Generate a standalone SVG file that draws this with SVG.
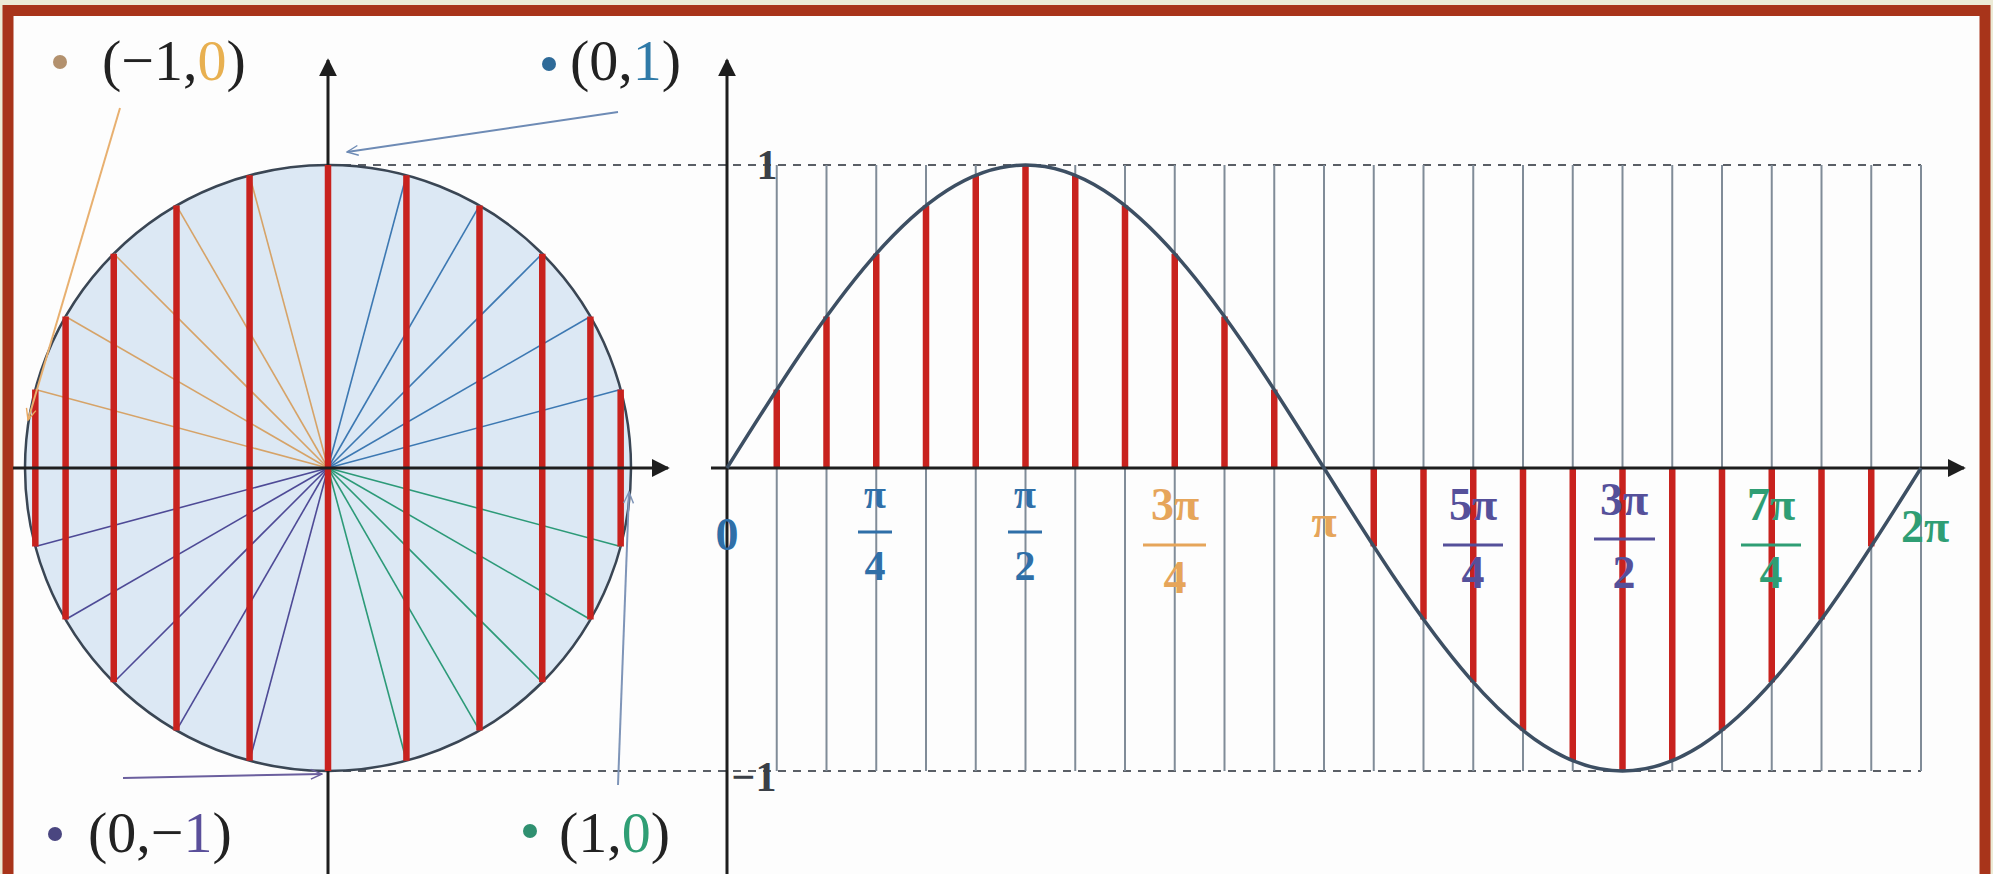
<svg xmlns="http://www.w3.org/2000/svg" width="1993" height="874" viewBox="0 0 1993 874">
<style>
.lbl{font-family:"Liberation Serif","DejaVu Serif",serif;font-size:58px;fill:#222}
.tick{font-family:"Liberation Serif","DejaVu Serif",serif;font-weight:bold;text-anchor:middle}
.axis{stroke:#1e1e1e;stroke-width:3;fill:none}
.dash{stroke:#5a5f66;stroke-width:2;stroke-dasharray:8 7;fill:none}
.grid{stroke:#808c98;stroke-width:2}
.red{stroke:#c8221e;stroke-width:6.5;stroke-linecap:butt}
.rb{stroke:#3c78b2;stroke-width:1.6}
.ro{stroke:#d6a368;stroke-width:1.6}
.rp{stroke:#4e4a96;stroke-width:1.6}
.rg{stroke:#2c9a78;stroke-width:1.6}
.bar{stroke-width:3}
.blue{fill:#2f6fa8;stroke:#2f6fa8}
.orange{fill:#e6a55a;stroke:#e6a55a}
.purple{fill:#55509a;stroke:#55509a}
.green{fill:#2f9e74;stroke:#2f9e74}
text.blue,text.orange,text.purple,text.green{stroke:none}
</style>
<defs>
<marker id="ah" viewBox="0 0 10 10" refX="9" refY="5" markerWidth="6" markerHeight="6" markerUnits="strokeWidth" orient="auto"><path d="M0,0 L10,5 L0,10 z" fill="#1e1e1e"/></marker>
<marker id="pb" viewBox="0 0 20 20" refX="18" refY="10" markerWidth="14" markerHeight="14" markerUnits="userSpaceOnUse" orient="auto"><path d="M2,3 L18,10 L2,17" fill="none" stroke="#6e8bb5" stroke-width="2"/></marker>
<marker id="po" viewBox="0 0 20 20" refX="18" refY="10" markerWidth="14" markerHeight="14" markerUnits="userSpaceOnUse" orient="auto"><path d="M2,3 L18,10 L2,17" fill="none" stroke="#e8a860" stroke-width="2"/></marker>
<marker id="pp" viewBox="0 0 20 20" refX="18" refY="10" markerWidth="14" markerHeight="14" markerUnits="userSpaceOnUse" orient="auto"><path d="M2,3 L18,10 L2,17" fill="none" stroke="#6b5f9e" stroke-width="2"/></marker>
<marker id="pg" viewBox="0 0 20 20" refX="18" refY="10" markerWidth="14" markerHeight="14" markerUnits="userSpaceOnUse" orient="auto"><path d="M2,3 L18,10 L2,17" fill="none" stroke="#7f95b8" stroke-width="2"/></marker>
</defs>

<rect x="0" y="0" width="1993" height="874" fill="#ecebd6"/>
<rect x="8" y="10.5" width="1977" height="880" fill="#fdfdfd" stroke="#a8341a" stroke-width="11"/>

<g id="dashed-lines">
<line class="dash" x1="328" y1="165" x2="1921" y2="165"/>
<line class="dash" x1="328" y1="771" x2="1921" y2="771"/>
</g>

<g id="unit-circle">
<circle cx="328" cy="468" r="303" fill="#dce8f4" stroke="#3a4654" stroke-width="2.5"/>
<g id="radii">
<line class="rb" x1="328" y1="468" x2="620.67" y2="389.58"/>
<line class="rb" x1="328" y1="468" x2="590.4" y2="316.5"/>
<line class="rb" x1="328" y1="468" x2="542.25" y2="253.75"/>
<line class="rb" x1="328" y1="468" x2="479.5" y2="205.6"/>
<line class="rb" x1="328" y1="468" x2="406.42" y2="175.33"/>
<line class="ro" x1="328" y1="468" x2="249.58" y2="175.33"/>
<line class="ro" x1="328" y1="468" x2="176.5" y2="205.6"/>
<line class="ro" x1="328" y1="468" x2="113.75" y2="253.75"/>
<line class="ro" x1="328" y1="468" x2="65.6" y2="316.5"/>
<line class="ro" x1="328" y1="468" x2="35.33" y2="389.58"/>
<line class="rp" x1="328" y1="468" x2="35.33" y2="546.42"/>
<line class="rp" x1="328" y1="468" x2="65.6" y2="619.5"/>
<line class="rp" x1="328" y1="468" x2="113.75" y2="682.25"/>
<line class="rp" x1="328" y1="468" x2="176.5" y2="730.4"/>
<line class="rp" x1="328" y1="468" x2="249.58" y2="760.67"/>
<line class="rg" x1="328" y1="468" x2="406.42" y2="760.67"/>
<line class="rg" x1="328" y1="468" x2="479.5" y2="730.4"/>
<line class="rg" x1="328" y1="468" x2="542.25" y2="682.25"/>
<line class="rg" x1="328" y1="468" x2="590.4" y2="619.5"/>
<line class="rg" x1="328" y1="468" x2="620.67" y2="546.42"/>
</g>
<line class="axis" x1="328" y1="874" x2="328" y2="60" marker-end="url(#ah)"/>
<g id="circle-sines">
<line class="red" x1="620.67" y1="389.58" x2="620.67" y2="546.42"/>
<line class="red" x1="590.4" y1="316.5" x2="590.4" y2="619.5"/>
<line class="red" x1="542.25" y1="253.75" x2="542.25" y2="682.25"/>
<line class="red" x1="479.5" y1="205.6" x2="479.5" y2="730.4"/>
<line class="red" x1="406.42" y1="175.33" x2="406.42" y2="760.67"/>
<line class="red" x1="328" y1="165" x2="328" y2="771"/>
<line class="red" x1="249.58" y1="175.33" x2="249.58" y2="760.67"/>
<line class="red" x1="176.5" y1="205.6" x2="176.5" y2="730.4"/>
<line class="red" x1="113.75" y1="253.75" x2="113.75" y2="682.25"/>
<line class="red" x1="65.6" y1="316.5" x2="65.6" y2="619.5"/>
<line class="red" x1="35.33" y1="389.58" x2="35.33" y2="546.42"/>
</g>
<line class="axis" x1="13" y1="468" x2="668" y2="468" marker-end="url(#ah)"/>
</g>

<g id="sine-graph">
<g id="grid">
<line class="grid" x1="776.75" y1="165" x2="776.75" y2="771"/>
<line class="grid" x1="826.5" y1="165" x2="826.5" y2="771"/>
<line class="grid" x1="876.25" y1="165" x2="876.25" y2="771"/>
<line class="grid" x1="926" y1="165" x2="926" y2="771"/>
<line class="grid" x1="975.75" y1="165" x2="975.75" y2="771"/>
<line class="grid" x1="1025.5" y1="165" x2="1025.5" y2="771"/>
<line class="grid" x1="1075.25" y1="165" x2="1075.25" y2="771"/>
<line class="grid" x1="1125" y1="165" x2="1125" y2="771"/>
<line class="grid" x1="1174.75" y1="165" x2="1174.75" y2="771"/>
<line class="grid" x1="1224.5" y1="165" x2="1224.5" y2="771"/>
<line class="grid" x1="1274.25" y1="165" x2="1274.25" y2="771"/>
<line class="grid" x1="1324" y1="165" x2="1324" y2="771"/>
<line class="grid" x1="1373.75" y1="165" x2="1373.75" y2="771"/>
<line class="grid" x1="1423.5" y1="165" x2="1423.5" y2="771"/>
<line class="grid" x1="1473.25" y1="165" x2="1473.25" y2="771"/>
<line class="grid" x1="1523" y1="165" x2="1523" y2="771"/>
<line class="grid" x1="1572.75" y1="165" x2="1572.75" y2="771"/>
<line class="grid" x1="1622.5" y1="165" x2="1622.5" y2="771"/>
<line class="grid" x1="1672.25" y1="165" x2="1672.25" y2="771"/>
<line class="grid" x1="1722" y1="165" x2="1722" y2="771"/>
<line class="grid" x1="1771.75" y1="165" x2="1771.75" y2="771"/>
<line class="grid" x1="1821.5" y1="165" x2="1821.5" y2="771"/>
<line class="grid" x1="1871.25" y1="165" x2="1871.25" y2="771"/>
<line class="grid" x1="1921" y1="165" x2="1921" y2="771"/>
</g>
<g id="graph-sines">
<line class="red" x1="776.75" y1="468" x2="776.75" y2="389.58"/>
<line class="red" x1="826.5" y1="468" x2="826.5" y2="316.5"/>
<line class="red" x1="876.25" y1="468" x2="876.25" y2="253.75"/>
<line class="red" x1="926" y1="468" x2="926" y2="205.6"/>
<line class="red" x1="975.75" y1="468" x2="975.75" y2="175.33"/>
<line class="red" x1="1025.5" y1="468" x2="1025.5" y2="165"/>
<line class="red" x1="1075.25" y1="468" x2="1075.25" y2="175.33"/>
<line class="red" x1="1125" y1="468" x2="1125" y2="205.6"/>
<line class="red" x1="1174.75" y1="468" x2="1174.75" y2="253.75"/>
<line class="red" x1="1224.5" y1="468" x2="1224.5" y2="316.5"/>
<line class="red" x1="1274.25" y1="468" x2="1274.25" y2="389.58"/>
<line class="red" x1="1373.75" y1="468" x2="1373.75" y2="546.42"/>
<line class="red" x1="1423.5" y1="468" x2="1423.5" y2="619.5"/>
<line class="red" x1="1473.25" y1="468" x2="1473.25" y2="682.25"/>
<line class="red" x1="1523" y1="468" x2="1523" y2="730.4"/>
<line class="red" x1="1572.75" y1="468" x2="1572.75" y2="760.67"/>
<line class="red" x1="1622.5" y1="468" x2="1622.5" y2="771"/>
<line class="red" x1="1672.25" y1="468" x2="1672.25" y2="760.67"/>
<line class="red" x1="1722" y1="468" x2="1722" y2="730.4"/>
<line class="red" x1="1771.75" y1="468" x2="1771.75" y2="682.25"/>
<line class="red" x1="1821.5" y1="468" x2="1821.5" y2="619.5"/>
<line class="red" x1="1871.25" y1="468" x2="1871.25" y2="546.42"/>
</g>
<line class="axis" x1="727" y1="874" x2="727" y2="60" marker-end="url(#ah)"/>
<line class="axis" x1="711" y1="468" x2="1964" y2="468" marker-end="url(#ah)"/>
<path id="sine-curve" d="M727,468 C824.35,312.78 917.47,165 1025.5,165 C1133.53,165 1226.65,312.78 1324,468 C1421.35,623.22 1514.47,771 1622.5,771 C1730.53,771 1823.65,623.22 1921,468" fill="none" stroke="#3d4f63" stroke-width="3.5"/>
</g>

<g id="connectors" fill="none" stroke-width="2">
<line x1="618" y1="112" x2="347" y2="152" stroke="#6e8bb5" marker-end="url(#pb)"/>
<line x1="120" y1="108" x2="28" y2="420" stroke="#e8b070" marker-end="url(#po)"/>
<line x1="123" y1="778" x2="322" y2="774" stroke="#6b5f9e" marker-end="url(#pp)"/>
<line x1="618" y1="785" x2="629" y2="492" stroke="#7f95b8" marker-end="url(#pg)"/>
</g>

<g id="label-m1-0">
<circle cx="60" cy="62" r="7" fill="#b3916e"/>
<text class="lbl" x="102" y="80">(−1,<tspan fill="#e8b050">0</tspan>)</text>
</g>
<g id="label-0-1">
<circle cx="549" cy="64" r="7" fill="#2e6a98"/>
<text class="lbl" x="570" y="80">(0,<tspan fill="#2f7aa8">1</tspan>)</text>
</g>
<g id="label-0-m1">
<circle cx="55" cy="834" r="7" fill="#4a4680"/>
<text class="lbl" x="88" y="852">(0,−<tspan fill="#5a4f9a">1</tspan>)</text>
</g>
<g id="label-1-0">
<circle cx="530" cy="831" r="7" fill="#2f9070"/>
<text class="lbl" x="559" y="852">(1,<tspan fill="#2f9e74">0</tspan>)</text>
</g>

<g id="tick-1"><text class="tick" x="767" y="179" font-size="42" fill="#3a3f46">1</text></g>
<g id="tick-m1"><text class="tick" x="754" y="791" font-size="42" fill="#3a3f46">−1</text></g>
<g id="tick-0"><text class="tick blue" x="727" y="550" font-size="46">0</text></g>
<g id="tick-pi4">
<text class="tick blue" x="875" y="508" font-size="40">π</text>
<line class="bar blue" x1="858" y1="532" x2="892" y2="532"/>
<text class="tick blue" x="875" y="580" font-size="42">4</text>
</g>
<g id="tick-pi2">
<text class="tick blue" x="1025" y="508" font-size="40">π</text>
<line class="bar blue" x1="1008" y1="532" x2="1042" y2="532"/>
<text class="tick blue" x="1025" y="580" font-size="42">2</text>
</g>
<g id="tick-3pi4">
<text class="tick orange" x="1175" y="520" font-size="46" font-weight="normal">3π</text>
<line class="bar orange" x1="1143" y1="545" x2="1206" y2="545"/>
<text class="tick orange" x="1175" y="593" font-size="46" font-weight="normal">4</text>
</g>
<g id="tick-pi"><text class="tick orange" x="1324" y="537" font-size="46" font-weight="normal">π</text></g>
<g id="tick-5pi4">
<text class="tick purple" x="1473" y="520" font-size="46" font-weight="normal">5π</text>
<line class="bar purple" x1="1443" y1="545" x2="1503" y2="545"/>
<text class="tick purple" x="1473" y="588" font-size="46" font-weight="normal">4</text>
</g>
<g id="tick-3pi2">
<text class="tick purple" x="1624" y="515" font-size="46" font-weight="normal">3π</text>
<line class="bar purple" x1="1594" y1="539" x2="1655" y2="539"/>
<text class="tick purple" x="1624" y="588" font-size="46" font-weight="normal">2</text>
</g>
<g id="tick-7pi4">
<text class="tick green" x="1771" y="520" font-size="46" font-weight="normal">7π</text>
<line class="bar green" x1="1741" y1="545" x2="1801" y2="545"/>
<text class="tick green" x="1771" y="588" font-size="46" font-weight="normal">4</text>
</g>
<g id="tick-2pi"><text class="tick green" x="1925" y="542" font-size="46" font-weight="normal">2π</text></g>
</svg>
